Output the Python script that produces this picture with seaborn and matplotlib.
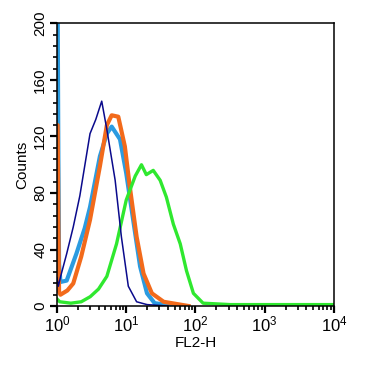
import numpy as np
import pandas as pd
import matplotlib
matplotlib.use("Agg")
import matplotlib.pyplot as plt
import seaborn as sns
from matplotlib.ticker import LogLocator, MultipleLocator, LogFormatterMathtext

plt.rcParams["font.family"] = ["Liberation Sans", "DejaVu Sans"]
plt.rcParams["mathtext.fontset"] = "custom"
plt.rcParams["mathtext.rm"] = "Liberation Sans"
plt.rcParams["mathtext.it"] = "Liberation Sans:italic"
plt.rcParams["mathtext.bf"] = "Liberation Sans:bold"

# values: log10(FL2-H) and counts
navy_log = [0.0, 0.02, 0.053, 0.14, 0.235, 0.33, 0.477, 0.56, 0.646, 0.72, 0.84, 0.93, 1.03, 1.15, 1.3, 1.6]
navy_cnt = [20, 14, 21, 37, 56, 78, 122, 132, 145, 125, 89, 49, 14, 3, 1, 0]

blue_log = [0.0, 0.01, 0.02, 0.03, 0.05, 0.14, 0.28, 0.40, 0.477, 0.62, 0.72, 0.79, 0.91, 1.0, 1.1, 1.2, 1.3, 1.41, 1.7]
blue_cnt = [210, 210, 105, 30, 17, 18, 37, 55, 70, 106, 122, 127, 118, 94, 61, 28, 9, 2, 0]

orange_log = [0.0, 0.01, 0.02, 0.03, 0.05, 0.15, 0.235, 0.35, 0.477, 0.62, 0.72, 0.79, 0.885, 0.98, 1.05, 1.15, 1.25, 1.37, 1.54, 1.9]
orange_cnt = [128, 128, 60, 10, 8, 11, 16, 35, 61, 99, 128, 135, 134, 113, 85, 49, 23, 9, 3, 0]

green_log = [0.0, 0.04, 0.2, 0.35, 0.48, 0.6, 0.72, 0.86, 1.0, 1.13, 1.22, 1.29, 1.39, 1.49, 1.58, 1.68, 1.78, 1.87, 1.97, 2.11, 2.5, 3.0, 3.5, 4.0]
green_cnt = [5, 3, 2, 3, 6.6, 12, 21, 44, 75, 92, 100, 93, 96, 89, 77, 58, 44, 25, 9, 2, 1, 1, 1, 1]

series = [
    (blue_log, blue_cnt, "#2b9be0", 3.0),
    (orange_log, orange_cnt, "#f26a1b", 3.0),
    (green_log, green_cnt, "#2fe82f", 2.4),
    (navy_log, navy_cnt, "#0a0a8c", 1.1),
]

fig = plt.figure(figsize=(3.71, 3.66), dpi=100)
ax = fig.add_axes([0.1536, 0.1639, 0.7466, 0.772])

for lg, cnt, col, lw in series:
    df = pd.DataFrame({"x": np.power(10.0, lg), "y": cnt})
    sns.lineplot(data=df, x="x", y="y", color=col, linewidth=lw, ax=ax,
                 sort=False, estimator=None)

ax.set_xscale("log")
ax.set_xlim(1, 1e4)
ax.set_ylim(0, 200)

ax.yaxis.set_major_locator(MultipleLocator(40))
ax.yaxis.set_minor_locator(MultipleLocator(8))
ax.xaxis.set_major_locator(LogLocator(base=10))
ax.xaxis.set_minor_locator(LogLocator(base=10, subs=np.arange(2, 10)))
ax.xaxis.set_major_formatter(LogFormatterMathtext())

for s in ax.spines.values():
    s.set_linewidth(1.1)
    s.set_color("black")

ax.tick_params(axis="both", which="major", direction="out", length=5, width=1.6, pad=2)
ax.tick_params(axis="y", which="major", labelsize=11)
ax.tick_params(axis="x", which="major", labelsize=12, pad=1)
ax.tick_params(axis="both", which="minor", direction="out", length=3, width=1.2)
for lab in ax.get_yticklabels():
    lab.set_rotation(90)
    lab.set_va("center")

ax.set_xlabel("FL2-H", fontsize=11, labelpad=1)
ax.set_ylabel("Counts", fontsize=11, labelpad=3)

fig.savefig("out.png", dpi=100)
